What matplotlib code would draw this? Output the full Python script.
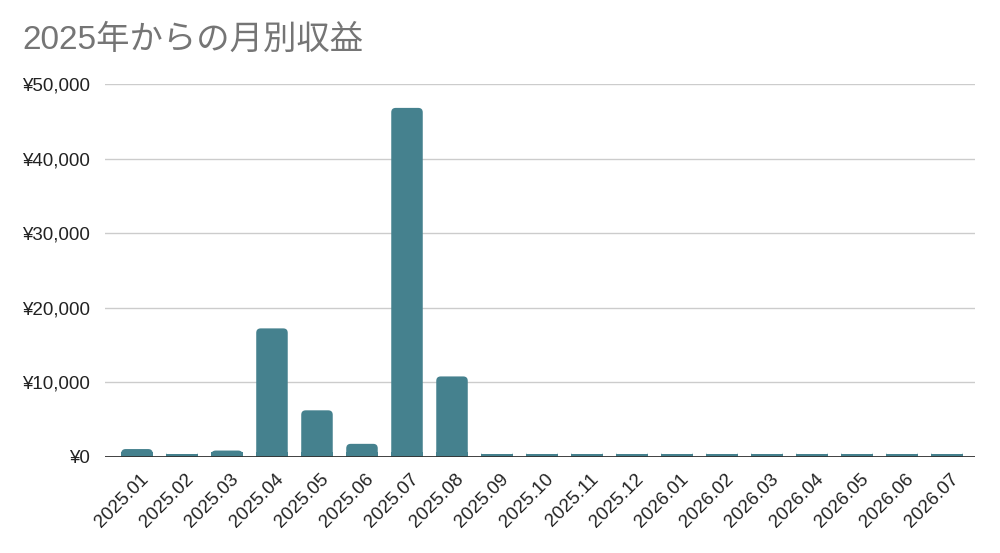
import matplotlib
matplotlib.use('Agg')
import matplotlib.pyplot as plt
import matplotlib.transforms as mtransforms
from matplotlib.ticker import FuncFormatter
from matplotlib.patches import FancyBboxPatch

months = ['2025.01', '2025.02', '2025.03', '2025.04', '2025.05', '2025.06',
          '2025.07', '2025.08', '2025.09', '2025.10', '2025.11', '2025.12',
          '2026.01', '2026.02', '2026.03', '2026.04', '2026.05', '2026.06',
          '2026.07']
revenue = [1000, 300, 800, 17200, 6200, 1700, 46800, 10750, 300, 300, 300,
           300, 300, 300, 300, 300, 300, 300, 300]
yticks = [0, 10000, 20000, 30000, 40000, 50000]

bar_color = '#45818e'
plt.rcParams['font.family'] = ['Liberation Sans', 'Noto Sans CJK JP']

fig = plt.figure(figsize=(10, 5.53), dpi=100)
ax = fig.add_axes([0.105, 0.1745, 0.87, 0.6735])

x = list(range(len(months)))
bars = ax.bar(x, revenue, width=0.7, color=bar_color, zorder=3)

# rounded top corners like the sheets chart
for b in bars:
    bx, w, h = b.get_x(), b.get_width(), b.get_height()
    b.set_visible(False)
    ax.add_patch(FancyBboxPatch((bx, 0), w, h,
                                boxstyle='round,pad=0,rounding_size=0.1',
                                mutation_aspect=6000,
                                facecolor=bar_color, edgecolor='none', zorder=3))
    # square bottom
    ax.bar(bx + w / 2, min(h, 600), width=w, color=bar_color, zorder=3)

ax.set_xlim(-0.71, len(months) - 1 + 0.62)
ax.set_ylim(0, 50000)
ax.set_yticks(yticks)
ax.yaxis.set_major_formatter(FuncFormatter(lambda v, p: '¥{:,.0f}'.format(v)))
ax.grid(axis='y', color='#cccccc', linewidth=1, zorder=0)
ax.axhline(0, color='#333333', linewidth=1.3, zorder=4)

for s in ax.spines.values():
    s.set_visible(False)
ax.tick_params(axis='both', length=0, labelsize=13.5, colors='#222222')
ax.tick_params(axis='y', pad=11)

ax.set_xticks(x)
ax.set_xticklabels(months, rotation=45, ha='right', rotation_mode='anchor')
offset = mtransforms.ScaledTranslation(3 / 100, -9 / 100, fig.dpi_scale_trans)
for lbl in ax.get_xticklabels():
    lbl.set_transform(lbl.get_transform() + offset)

fig.text(0.022, 0.927, '2025年からの月別収益', fontsize=24, color='#757575',
         ha='left', va='center')

fig.savefig('out.png', dpi=100, facecolor='white')
